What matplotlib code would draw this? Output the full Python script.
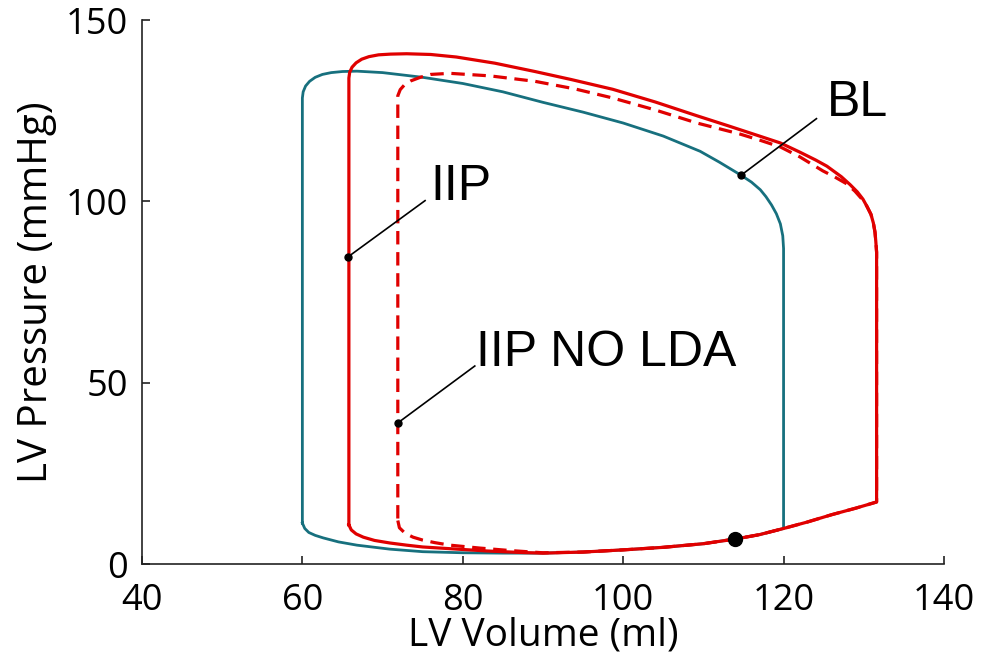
import matplotlib.pyplot as plt

# loop points (volume ml, pressure mmHg), counter-clockwise
bl_vol = [60.0, 60.3, 60.8, 61.6, 62.6, 64.5, 66.8, 70.9, 75.0, 80.0, 85.0, 90.0, 95.0, 100.0, 105.0,
          110.0, 114.0, 117.0, 120.0,
          120.0, 119.9, 119.6, 119.1, 118.5, 117.8, 117.1, 116.0, 114.7, 112.0, 109.6, 105.0, 100.0, 95.0,
          90.0, 85.0, 80.0, 75.0, 70.0, 66.8, 65.0, 63.6, 62.5, 61.6, 60.9, 60.4, 60.1, 60.0, 60.0]
bl_p = [11.3, 9.8, 8.7, 7.9, 7.2, 6.1, 5.2, 4.1, 3.4, 3.1, 3.0, 3.0, 3.3, 3.9, 4.6,
        5.6, 6.9, 8.1, 9.8,
        87.0, 90.5, 93.8, 96.6, 99.0, 101.3, 103.2, 105.3, 107.2, 110.8, 113.8, 118.0, 121.6, 124.6,
        127.3, 130.2, 132.5, 134.2, 135.5, 135.9, 135.8, 135.5, 135.0, 134.2, 133.1, 131.8, 130.2, 128.5, 11.3]

iip_vol = [65.8, 66.1, 66.7, 67.6, 69.0, 70.9, 73.0, 75.0, 79.3, 83.0, 87.0, 90.0, 95.0, 100.0,
           105.0, 110.0, 114.0, 117.0, 120.0, 123.0, 126.0, 129.0, 131.6,
           131.6, 131.5, 131.4, 131.2, 130.9, 130.4, 129.9, 129.2, 128.3, 127.2, 125.4, 124.0, 122.0,
           119.6, 117.0, 113.0, 109.2, 104.0, 98.7, 93.5, 89.0, 84.0, 79.2, 76.0, 73.0, 71.0, 69.5,
           68.3, 67.4, 66.7, 66.2, 65.9, 65.8, 65.8]
iip_p = [10.8, 9.4, 8.3, 7.4, 6.5, 5.8, 5.2, 4.7, 4.1, 3.6, 3.2, 3.0, 3.3, 3.9,
         4.6, 5.6, 6.9, 8.1, 9.8, 11.6, 13.6, 15.4, 17.1,
         86.0, 89.0, 91.5, 94.0, 96.4, 98.6, 100.6, 102.6, 104.6, 106.8, 109.7, 111.4, 113.6,
         116.1, 118.0, 120.9, 123.6, 127.4, 130.9, 133.6, 135.8, 138.1, 139.8, 140.5, 140.7, 140.6, 140.4,
         139.9, 139.2, 138.2, 137.0, 135.6, 134.0, 10.8]

nolda_vol = [71.9, 72.1, 72.8, 73.8, 75.0, 76.5, 78.4, 82.1, 86.0, 90.0, 95.0, 100.0,
             105.0, 110.0, 114.0, 117.0, 120.0, 123.0, 126.0, 129.0, 131.6,
             131.6, 131.5, 131.4, 131.2, 130.9, 130.4, 129.9, 128.9, 127.9, 126.4, 124.9, 122.0, 119.6,
             117.0, 114.5, 109.2, 104.0, 98.7, 94.0, 89.0, 83.4, 78.4, 76.0, 74.7, 73.5, 72.8, 72.2,
             71.9, 71.9]
nolda_p = [12.0, 10.0, 8.5, 7.4, 6.6, 5.9, 5.2, 4.4, 3.7, 3.1, 3.3, 3.9,
           4.6, 5.6, 6.9, 8.1, 9.8, 11.6, 13.6, 15.4, 17.1,
           86.0, 89.0, 91.5, 94.0, 96.4, 98.6, 100.3, 102.8, 104.8, 106.7, 108.4, 112.3, 115.0,
           116.9, 118.6, 121.6, 125.2, 128.5, 131.0, 133.1, 134.6, 135.3, 135.0, 134.2, 133.2, 132.3, 130.8,
           129.1, 12.0]

# labels: text, point on curve, end of leader line, text anchor
labels = ['BL', 'IIP', 'IIP NO LDA']
lab_pts = [(114.7, 107.2), (65.7, 84.7), (71.9, 38.9)]
lab_ends = [(124.1, 122.8), (75.3, 100.2), (81.5, 54.6)]
lab_txt = [(125.4, 123.5), (76.0, 100.3), (81.6, 54.6)]

es_point = (113.9, 6.9)

teal = '#17707e'
red = '#e00000'

fig = plt.figure(figsize=(9.9, 6.63), dpi=100)
ax = fig.add_axes([0.1434, 0.1493, 0.8101, 0.8205])

ax.plot(bl_vol, bl_p, color=teal, lw=2.0, solid_joinstyle='round', zorder=2)
ax.plot(iip_vol, iip_p, color=red, lw=2.3, solid_joinstyle='round', zorder=3)
ax.plot(nolda_vol, nolda_p, color=red, lw=2.3, dashes=(4.2, 2.4), zorder=4)

for txt, pt, end, tp in zip(labels, lab_pts, lab_ends, lab_txt):
    ax.plot([pt[0], end[0]], [pt[1], end[1]], color='black', lw=1.2, zorder=5)
    ax.plot(pt[0], pt[1], 'o', color='black', ms=5, zorder=6)
    ax.text(tp[0], tp[1], txt, fontsize=36, family=['Liberation Sans', 'DejaVu Sans'],
            ha='left', va='baseline', zorder=6)

ax.plot(es_point[0], es_point[1], 'o', color='black', ms=10, zorder=6)

ax.set_xlim(40, 140)
ax.set_ylim(0, 150)
ax.set_xticks([40, 60, 80, 100, 120, 140])
ax.set_yticks([0, 50, 100, 150])
for s in ['top', 'right']:
    ax.spines[s].set_visible(False)
for s in ['left', 'bottom']:
    ax.spines[s].set_linewidth(1.2)
    ax.spines[s].set_color('#222222')
ax.tick_params(direction='in', length=6, width=1.2, color='#222222', labelsize=26)
ax.tick_params(axis='y', pad=10)
ax.tick_params(axis='x', pad=14)
for lab in ax.get_xticklabels() + ax.get_yticklabels():
    lab.set_family(['Open Sans', 'DejaVu Sans'])

ax.set_xlabel('LV Volume (ml)', fontsize=28, family=['Open Sans', 'DejaVu Sans'], labelpad=-2)
ax.set_ylabel('LV Pressure (mmHg)', fontsize=29, family=['Open Sans', 'DejaVu Sans'], labelpad=6)

fig.savefig('out.png', dpi=100)
